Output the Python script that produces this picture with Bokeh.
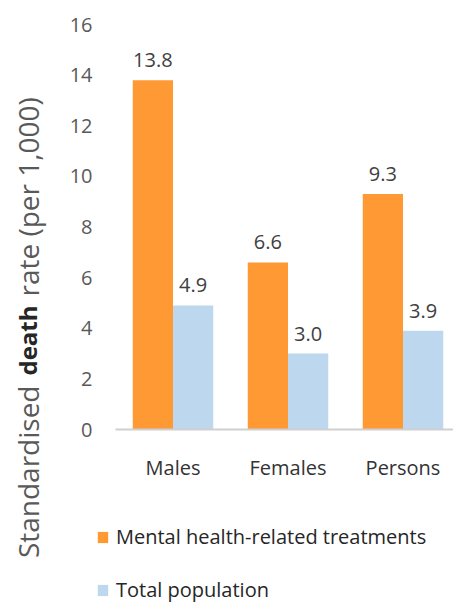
import math
import numpy as np
from bokeh.plotting import figure
from bokeh.models import (Range1d, Label, Legend, LegendItem, FixedTicker,
                          ColumnDataSource, LinearAxis)
from bokeh.core.properties import value
from bokeh.embed import file_html
from bokeh.resources import INLINE

# Data
groups = ["Males", "Females", "Persons"]
mental_health = [13.8, 6.6, 9.3]
total_population = [4.9, 3.0, 3.9]
series_names = ["Mental health-related treatments", "Total population"]
y_ticks = [0, 2, 4, 6, 8, 10, 12, 14, 16]

ORANGE = "#FF9933"
BLUE = "#BDD7EE"
FONT = "Open Sans"
W, H = 453, 603

# Pixel geometry of the plotting area inside the canvas
AREA_LEFT, AREA_TOP, AREA_BOTTOM = 115, 24, 429
PX_PER_GROUP = 115
PX_PER_UNIT = (AREA_BOTTOM - AREA_TOP) / 16

x_start = -0.5 - AREA_LEFT / PX_PER_GROUP
y_start = -(H - AREA_BOTTOM) / PX_PER_UNIT
p = figure(
    width=W, height=H,
    x_range=Range1d(x_start, x_start + W / PX_PER_GROUP),
    y_range=Range1d(y_start, y_start + H / PX_PER_UNIT),
    x_axis_location=None, y_axis_location=None,
    output_backend="svg", toolbar_location=None, min_border=0,
)
p.outline_line_color = None
p.xgrid.visible = False
p.ygrid.visible = False

idx = np.arange(len(groups))
bar_w = 0.35
src_a = ColumnDataSource(dict(x=idx - bar_w / 2, top=mental_health,
                              label=[f"{v:.1f}" for v in mental_health]))
src_b = ColumnDataSource(dict(x=idx + bar_w / 2, top=total_population,
                              label=[f"{v:.1f}" for v in total_population]))

r_a = p.vbar(x="x", top="top", width=bar_w, bottom=0, source=src_a,
             fill_color=ORANGE, line_color=None)
r_b = p.vbar(x="x", top="top", width=bar_w, bottom=0, source=src_b,
             fill_color=BLUE, line_color=None)

# Value labels above the bars
for src in (src_a, src_b):
    p.text(x="x", y="top", text="label", source=src, y_offset=-20,
           text_align="center", text_baseline="alphabetic",
           text_font=value(FONT), text_font_size="20px", text_color="#404040")

# Category axis sitting on y = 0
xaxis = LinearAxis(fixed_location=0, bounds=(-0.5, x_start + W / PX_PER_GROUP))
xaxis.ticker = FixedTicker(ticks=list(idx))
xaxis.major_label_overrides = {int(i): g for i, g in zip(idx, groups)}
xaxis.major_tick_line_color = None
xaxis.minor_tick_line_color = None
xaxis.axis_line_color = "#D0D0D0"
xaxis.axis_line_width = 2
xaxis.major_label_standoff = 18
xaxis.major_label_text_font = FONT
xaxis.major_label_text_font_size = "20px"
xaxis.major_label_text_color = "#333333"
p.add_layout(xaxis, "below")

# Value axis at the left edge of the bars area
yaxis = LinearAxis(fixed_location=-0.5)
yaxis.ticker = FixedTicker(ticks=y_ticks)
yaxis.axis_line_color = None
yaxis.major_tick_line_color = None
yaxis.minor_tick_line_color = None
yaxis.major_label_standoff = 17
yaxis.major_label_text_font = FONT
yaxis.major_label_text_font_size = "20px"
yaxis.major_label_text_color = "#595959"
p.add_layout(yaxis, "left")

# Rotated y-axis title with the word "death" set in bold
title_style = dict(x_units="screen", y_units="screen", angle=math.pi / 2,
                   text_font=FONT, text_font_size="28px",
                   text_color="#595959", text_baseline="middle")
p.add_layout(Label(x=27, y=H - 385, text="Standardised", text_align="right", **title_style))
p.add_layout(Label(x=27, y=H - 340, text="death", text_align="center",
                   **{**title_style, "text_color": "#262626",
                      "text_font_size": "24px"}, text_font_style="bold"))
p.add_layout(Label(x=27, y=H - 296, text="rate (per 1,000)", text_align="left", **title_style))

# Legend under the chart
legend = Legend(
    items=[LegendItem(label=series_names[0], renderers=[r_a]),
           LegendItem(label=series_names[1], renderers=[r_b])],
    location=(96, 0), orientation="vertical",
    glyph_width=13, glyph_height=14, label_standoff=7,
    label_text_font=FONT, label_text_font_size="20px", label_text_color="#262626",
    spacing=26, padding=0, margin=0,
    border_line_color=None, background_fill_alpha=0,
)
p.add_layout(legend)

open("out.html", "w").write(file_html(p, INLINE))
